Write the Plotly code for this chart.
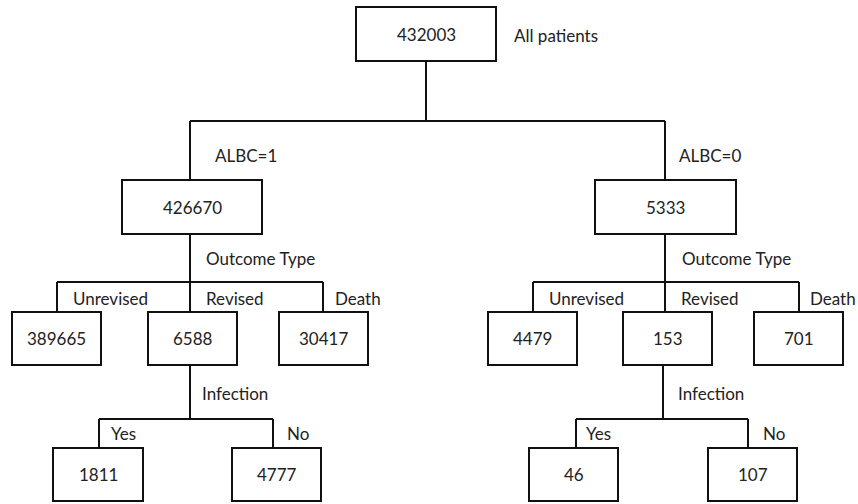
import plotly.graph_objects as go

# ---- data ----
node_ids = ["all", "a1", "a0", "a1_unrev", "a1_rev", "a1_death", "a0_unrev", "a0_rev", "a0_death",
            "a1_yes", "a1_no", "a0_yes", "a0_no"]
node_counts = [432003, 426670, 5333, 389665, 6588, 30417, 4479, 153, 701, 1811, 4777, 46, 107]
root_label = "All patients"
split_labels = ["ALBC=1", "ALBC=0"]
split_name_outcome = "Outcome Type"
outcome_labels = ["Unrevised", "Revised", "Death"]
split_name_infection = "Infection"
infection_labels = ["Yes", "No"]

# ---- layout geometry (pixels, y down) ----
box = {
    "all": (356, 496, 7, 61),
    "a1": (122, 262, 180, 234), "a0": (595, 736, 180, 234),
    "a1_unrev": (12, 101, 312, 365), "a1_rev": (148, 237, 312, 365), "a1_death": (279, 368, 312, 365),
    "a0_unrev": (488, 577, 312, 365), "a0_rev": (623, 712, 312, 365), "a0_death": (754, 843, 312, 365),
    "a1_yes": (53, 143, 448, 501), "a1_no": (232, 321, 448, 501),
    "a0_yes": (529, 618, 448, 501), "a0_no": (708, 797, 448, 501),
}
# connector groups: (stem x, stem top, bar y, [drop xs], drop bottom)
connectors = [
    (426, 61, 121, [190, 665], 180),
    (190, 234, 282, [57, 190, 323], 312),
    (665, 234, 282, [533, 665, 799], 312),
    (190, 365, 419, [99, 273], 448),
    (663, 365, 419, [576, 748], 448),
]
FONT = "Lato, Carlito, Calibri, sans-serif"
FS = 17
TXT = "#222222"

fig = go.Figure()

# connectors as line traces
lx, ly = [], []
for sx, st, by, drops, db in connectors:
    lx += [sx, sx, None, min(drops), max(drops), None]
    ly += [st, by, None, by, by, None]
    for d in drops:
        lx += [d, d, None]
        ly += [by, db, None]
fig.add_trace(go.Scatter(x=lx, y=ly, mode="lines", line=dict(color="#111111", width=2),
                         hoverinfo="skip", showlegend=False))

# boxes
for nid, cnt in zip(node_ids, node_counts):
    x0, x1, y0, y1 = box[nid]
    fig.add_shape(type="rect", x0=x0, x1=x1, y0=y0, y1=y1, xref="x", yref="y",
                  line=dict(color="#111111", width=2), fillcolor="white", layer="above")
    fig.add_annotation(x=(x0 + x1) / 2, y=(y0 + y1) / 2, text=str(cnt), showarrow=False,
                       font=dict(family=FONT, size=FS, color=TXT), xanchor="center", yanchor="middle")

def label(x, y, t):
    fig.add_annotation(x=x, y=y, text=t, showarrow=False, xanchor="left", yanchor="middle",
                       font=dict(family=FONT, size=FS, color=TXT))

label(512, 35, root_label)
label(213, 155, split_labels[0])
label(677, 155, split_labels[1])
label(204, 258, split_name_outcome)
label(680, 258, split_name_outcome)
for x, t in zip([71, 204, 333], outcome_labels):
    label(x, 298, t)
for x, t in zip([547, 679, 808], outcome_labels):
    label(x, 298, t)
label(200, 393, split_name_infection)
label(676, 393, split_name_infection)
for x, t in zip([109, 285], infection_labels):
    label(x, 433, t)
for x, t in zip([584, 761], infection_labels):
    label(x, 433, t)

fig.update_layout(
    width=858, height=504, margin=dict(l=0, r=0, t=0, b=0),
    paper_bgcolor="white", plot_bgcolor="white",
    xaxis=dict(range=[0, 858], visible=False, fixedrange=True),
    yaxis=dict(range=[504, 0], visible=False, fixedrange=True),
    showlegend=False,
)
fig.write_html("out.html", config={"displayModeBar": False, "staticPlot": True},
               post_script="document.body.style.margin='0';document.body.style.overflow='hidden';")
